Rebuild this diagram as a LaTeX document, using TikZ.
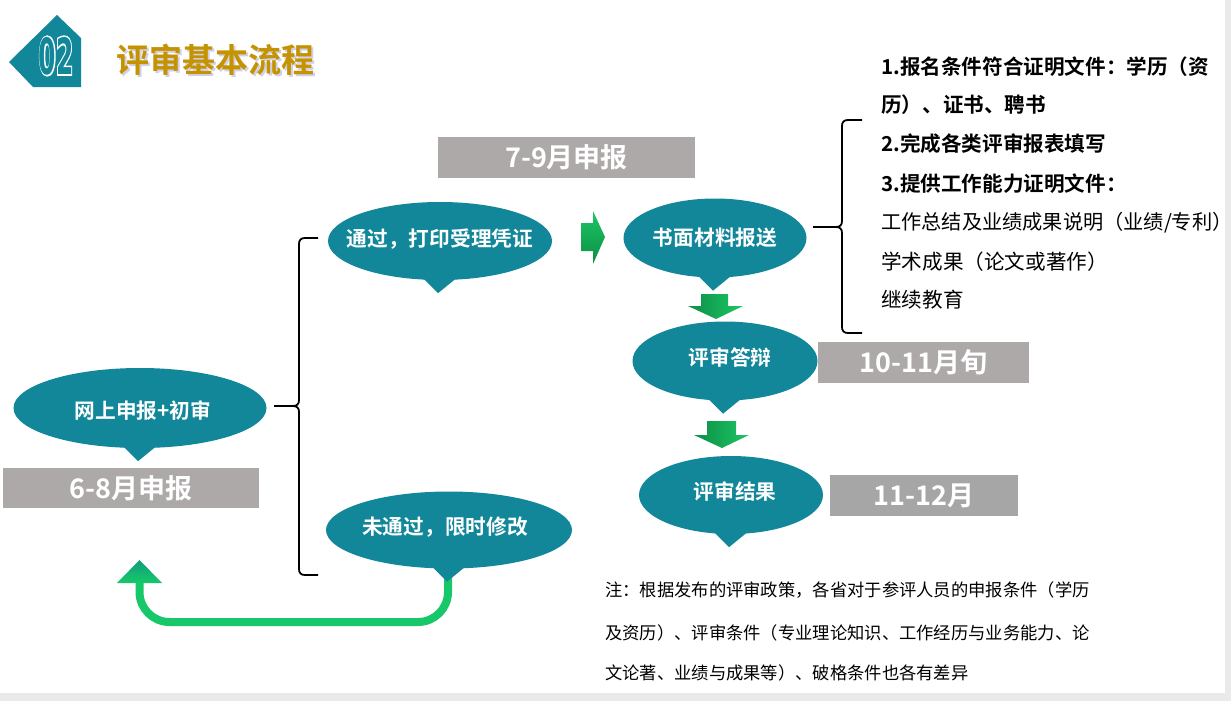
\documentclass[tikz,border=0pt]{standalone}
\usepackage{fontspec}
\setmainfont{Noto Sans CJK SC}[BoldFont={* Bold}]
\newfontfamily\digw{DejaVu Sans Bold}[FakeBold=7]
\newfontfamily\digt{DejaVu Sans Bold}
\usetikzlibrary{shapes.geometric,calc}
\definecolor{tealc}{HTML}{12879A}
\definecolor{goldc}{HTML}{C49300}
\definecolor{shadc}{HTML}{D3CFEA}
\definecolor{boxg}{HTML}{ADA9A8}
\definecolor{boxn}{HTML}{A6A6A6}
\definecolor{pageg}{HTML}{EAEAEA}
\definecolor{glight}{HTML}{1CC664}
\definecolor{gdark}{HTML}{0C8E47}
\definecolor{gline}{HTML}{17C86A}
\definecolor{ghead}{HTML}{119E7A}
\newcommand\bubtip[1]{\fill[tealc] ($(#1.south)+(-20,-5)$) -- ($(#1.south)+(-2,13)$) -- ($(#1.south)+(20,-5)$) -- cycle;}
\begin{document}
\begin{tikzpicture}[x=1pt,y=-1pt,
  bub/.style 2 args={ellipse, fill=tealc, draw=none, inner sep=0pt, minimum width=#1pt, minimum height=#2pt},
  btext/.style={text=white, font=\bfseries\fontsize{20.7}{22}\selectfont, inner sep=0pt},
  gbox/.style 2 args={rectangle, fill=boxg, draw=none, inner sep=0pt, minimum width=#1pt, minimum height=#2pt, text=white, font=\bfseries\fontsize{27}{28}\selectfont},
  brk/.style={draw=black, line width=1.8pt},
  rtext/.style={anchor=west, inner sep=0pt, font=\fontsize{20.6}{22}\selectfont, text=black},
  ntext/.style={anchor=west, inner sep=0pt, font=\fontsize{17.3}{19}\selectfont, text=black}]
\useasboundingbox (0,0) rectangle (1231,701);
\fill[pageg] (0,0) rectangle (1231,701);
\fill[white] (0,0) rectangle (1225,693);

% header
\fill[tealc] (9,62) -- (57,15) -- (81,38) -- (81,87) -- (33,87) -- cycle;
\node[text=white, font=\digw\fontsize{50}{50}\selectfont, inner sep=0pt, xscale=0.5] (num) at (56,56) {02};
\node[text=tealc, font=\digt\fontsize{50}{50}\selectfont, inner sep=0pt, xscale=0.5] at (num.center) {02};
\node[text=shadc, font=\bfseries\fontsize{33}{34}\selectfont, inner sep=0pt] at (217,61.5) {评审基本流程};
\node[text=goldc, font=\bfseries\fontsize{33}{34}\selectfont, inner sep=0pt] (title) at (215.5,60) {评审基本流程};

% return arrow (drawn below the bubbles)
\coordinate (rstart) at (448,572);
\coordinate (rend) at (139.5,580);
\draw[gline, line width=8pt, rounded corners=30pt] (rstart) -- (448,622) -- (139.5,622) -- (rend);
\shade[top color=ghead, bottom color=gline] (117,583) -- (139.5,560) -- (162,583) -- cycle;

% bubbles
\node[bub={253}{80}] (online) at (140,408) {};
\bubtip{online}
\node[btext] at ($(online)+(3,3)$) {网上申报+初审};

\node[bub={224}{78}] (pass) at (440,241) {};
\bubtip{pass}
\node[btext] at ($(pass)+(0,-2)$) {通过，打印受理凭证};

\node[bub={246}{77}] (fail) at (449,530) {};
\bubtip{fail}
\node[btext] at ($(fail)+(-4,-3)$) {未通过，限时修改};

\node[bub={183}{79}] (book) at (715,238) {};
\bubtip{book}
\node[btext] at ($(book)+(0,0)$) {书面材料报送};

\node[bub={185}{79}] (defend) at (725,361) {};
\bubtip{defend}
\node[btext] at ($(defend)+(5,-3)$) {评审答辩};

\node[bub={184}{78}] (result) at (731,495) {};
\bubtip{result}
\node[btext] at ($(result)+(4,-3)$) {评审结果};

% gray boxes
\node[gbox={256}{40}] (b68) at (131,488) {6-8月申报};
\node[gbox={257}{41}] (b79) at (566.5,157.5) {7-9月申报};
\node[gbox={211}{41}] (b1011) at (923.5,362.5) {10-11月旬};
\node[gbox={188}{41}, fill=boxn] (b1112) at (924,495.5) {11-12月};

% green block arrows
\shade[top color=glight, bottom color=gdark] (581,223) -- (593,223) -- (593,211) -- (605,237) -- (593,264) -- (593,251) -- (581,251) -- cycle;
\shade[left color=gdark, right color=glight] (701,294) -- (728,294) -- (728,306) -- (743,306) -- (716,319) -- (688,306) -- (701,306) -- cycle;
\shade[left color=gdark, right color=glight] (707,421) -- (736,421) -- (736,435) -- (749,435) -- (722,448) -- (694,435) -- (707,435) -- cycle;

% left brace
\draw[brk] (318,238) -- (305,238) .. controls (301,238) and (299,240) .. (299,244) -- (299,400) .. controls (299,404) and (297,406) .. (293,406) -- (274,406);
\draw[brk] (293,406) .. controls (297,406) and (299,408) .. (299,412) -- (299,569) .. controls (299,573) and (301,575) .. (305,575) -- (318,575);

% right brace
\draw[brk] (862,120) -- (848,120) .. controls (844,120) and (842,122) .. (842,126) -- (842,221) .. controls (842,225) and (840,227) .. (836,227) -- (813,227);
\draw[brk] (836,227) .. controls (840,227) and (842,229) .. (842,233) -- (842,327) .. controls (842,331) and (844,333) .. (848,333) -- (862,333);

% right list
\node[rtext] (r1) at (881,67) {\bfseries 1.报名条件符合证明文件：学历（资};
\node[rtext] (r2) at (881,105) {\bfseries 历）、证书、聘书};
\node[rtext] (r3) at (881,144) {\bfseries 2.完成各类评审报表填写};
\node[rtext] (r4) at (881,184) {\bfseries 3.提供工作能力证明文件：};
\node[rtext, font=\fontsize{20.2}{22}\selectfont] (r5) at (881,223) {工作总结及业绩成果说明（业绩/专利）};
\node[rtext] (r6) at (881,262) {学术成果（论文或著作）};
\node[rtext] (r7) at (881,300) {继续教育};

% note
\node[ntext] (n1) at (605,590) {注：根据发布的评审政策，各省对于参评人员的申报条件（学历};
\node[ntext] (n2) at (605,633) {及资历）、评审条件（专业理论知识、工作经历与业务能力、论};
\node[ntext] (n3) at (605,673) {文论著、业绩与成果等）、破格条件也各有差异};
\end{tikzpicture}
\end{document}
